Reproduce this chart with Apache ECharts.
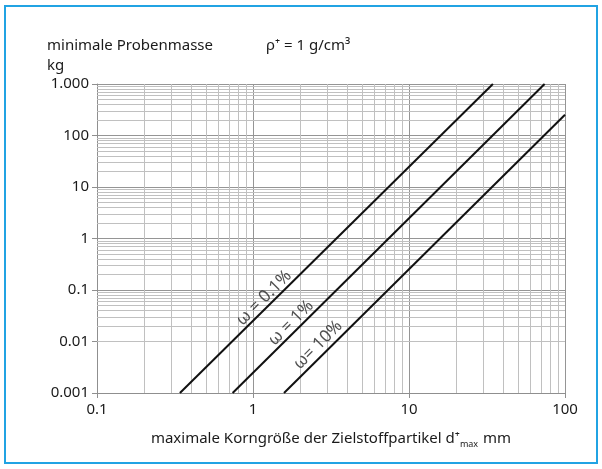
<!DOCTYPE html>
<html>
<head>
<meta charset="utf-8">
<script src="https://cdn.jsdelivr.net/npm/echarts@6/dist/echarts.min.js"></script>
<style>
html,body{margin:0;padding:0;background:#fff;}
#chart{width:602px;height:469px;}
</style>
</head>
<body>
<div id="chart"></div>
<script>
// ---- data ----
const xTicks = [0.1, 1, 10, 100];
const xTickLabels = ['0.1', '1', '10', '100'];
const yTicks = [0.001, 0.01, 0.1, 1, 10, 100, 1000];
const yTickLabels = ['0.001', '0.01', '0.1', '1', '10', '100', '1.000'];
const seriesNames = ['ω = 0.1%', 'ω = 1%', 'ω= 10%'];
const line01 = [[0.34, 0.001], [34.5, 1000]];
const line1 = [[0.74, 0.001], [74, 1000]];
const line10 = [[1.58, 0.001], [100, 253]];
const labelPos = [[1.176, 0.070], [1.75, 0.0229], [2.61, 0.00855]];
const minorMult = [2, 3, 4, 5, 6, 7, 8, 9];

const FONT = 'Noto Sans';
const chart = echarts.init(document.getElementById('chart'), null, {renderer: 'canvas'});

function minorValues(ticks) {
  const out = [];
  for (let i = 0; i < ticks.length - 1; i++) {
    minorMult.forEach(m => out.push(+(ticks[i] * m).toPrecision(6)));
  }
  return out;
}
const minorX = minorValues(xTicks);
const minorY = minorValues(yTicks);

function labelFor(ticks, labels) {
  return function (v) {
    const l = Math.round(Math.log10(v));
    for (let i = 0; i < ticks.length; i++) {
      if (Math.round(Math.log10(ticks[i])) === l) return labels[i];
    }
    return '';
  };
}

const minorStyle = {color: '#c0c0c0', width: 1, type: 'solid'};
const gridMarkData = []
  .concat(minorX.map(v => ({xAxis: v, lineStyle: minorStyle})))
  .concat(minorY.map(v => ({yAxis: v, lineStyle: minorStyle})));

const lineStyle = {color: '#111', width: 2};
const txt = '#1a1a1a';

chart.setOption({
  animation: false,
  backgroundColor: '#fff',
  textStyle: {fontFamily: FONT},
  title: [
    {text: 'minimale Probenmasse\nkg', left: 42, top: 31,
     textStyle: {fontFamily: FONT, fontSize: 15, fontWeight: 'normal', color: txt, lineHeight: 20}},
    {text: 'ρ⁺ = 1 g/cm³', left: 261, top: 31,
     textStyle: {fontFamily: FONT, fontSize: 15, fontWeight: 'normal', color: txt, lineHeight: 20}}
  ],
  graphic: [
    {type: 'rect', shape: {x: 5, y: 6, width: 592, height: 457}, silent: true,
     style: {fill: 'none', stroke: '#21a3e3', lineWidth: 2}}
  ],
  grid: {left: 97, right: 37, top: 84, bottom: 76, containLabel: false},
  xAxis: {
    type: 'log', logBase: 10, min: 0.1, max: 100,
    name: 'maximale Korngröße der Zielstoffpartikel d⁺{sub|max} mm',
    nameLocation: 'middle', nameGap: 36,
    nameTextStyle: {fontFamily: FONT, fontSize: 15, color: txt,
      rich: {sub: {fontFamily: FONT, fontSize: 9, color: txt, padding: [11, 1, 0, 0]}}},
    axisLine: {show: true, lineStyle: {color: '#8f8f8f', width: 1}},
    axisTick: {show: true, length: 5, lineStyle: {color: '#8f8f8f'}},
    axisLabel: {fontFamily: FONT, fontSize: 15, color: txt, margin: 9, formatter: labelFor(xTicks, xTickLabels)},
    splitLine: {show: true, lineStyle: {color: '#959595', width: 1}},
    minorTick: {show: false}, minorSplitLine: {show: false}
  },
  yAxis: {
    type: 'log', logBase: 10, min: 0.001, max: 1000,
    axisLine: {show: true, lineStyle: {color: '#8f8f8f', width: 1}},
    axisTick: {show: true, length: 5, lineStyle: {color: '#8f8f8f'}},
    axisLabel: {fontFamily: FONT, fontSize: 15, color: txt, margin: 8, formatter: labelFor(yTicks, yTickLabels)},
    splitLine: {show: true, lineStyle: {color: '#959595', width: 1}},
    minorTick: {show: false}, minorSplitLine: {show: false}
  },
  series: [
    {type: 'line', name: 'grid', data: [], silent: true, z: 1,
     markLine: {silent: true, symbol: ['none', 'none'], label: {show: false}, animation: false,
       emphasis: {disabled: true}, data: gridMarkData}},
    {type: 'line', name: seriesNames[0], data: line01, showSymbol: false, symbol: 'none', lineStyle: lineStyle, z: 5},
    {type: 'line', name: seriesNames[1], data: line1, showSymbol: false, symbol: 'none', lineStyle: lineStyle, z: 5},
    {type: 'line', name: seriesNames[2], data: line10, showSymbol: false, symbol: 'none', lineStyle: lineStyle, z: 5},
    {type: 'scatter', name: 'labels', symbolSize: 0, silent: true, z: 6,
     data: labelPos.map((p, i) => ({value: p, name: seriesNames[i]})),
     label: {show: true, position: 'inside', rotate: 45, formatter: p => p.name,
       fontFamily: FONT, fontSize: 17, color: '#262626'}}
  ]
});
</script>
</body>
</html>
